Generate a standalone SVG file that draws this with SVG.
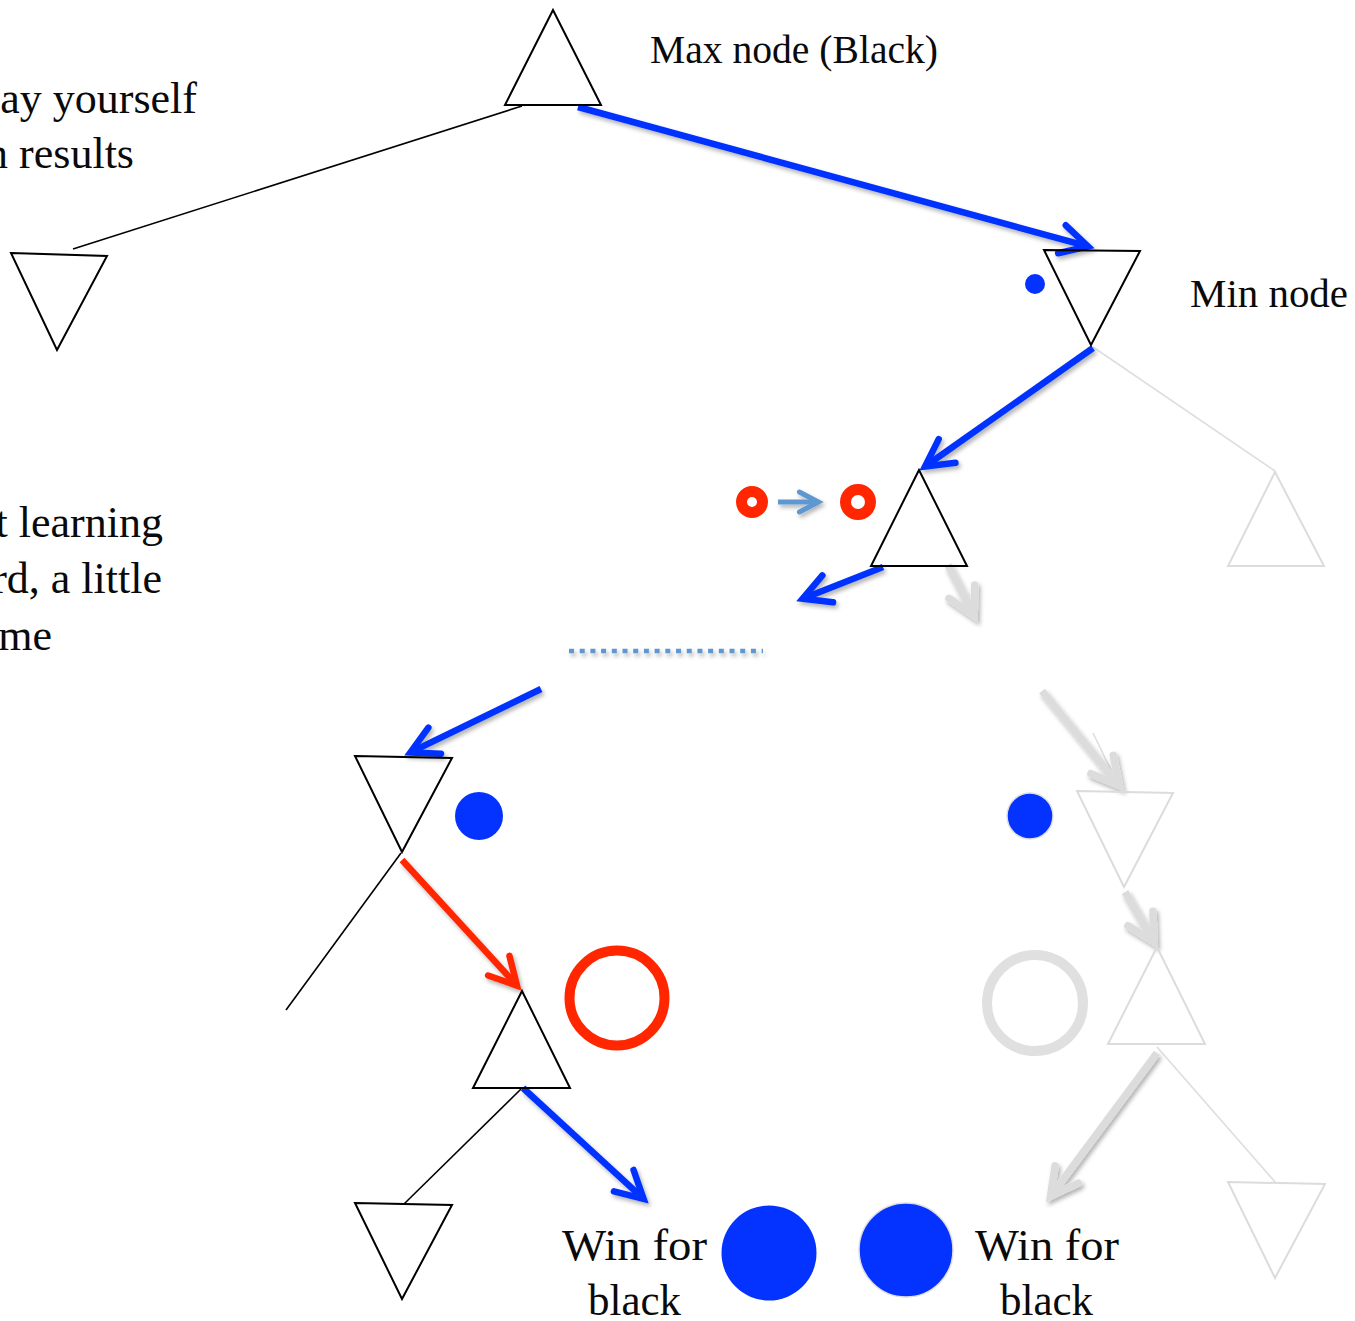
<svg xmlns="http://www.w3.org/2000/svg" width="1355" height="1321" viewBox="0 0 1355 1321">
  <style>
    .lbl { font-family: "Liberation Serif", "DejaVu Serif", serif; fill: #0a0a0a; }
    .tri { fill: none; stroke: #000; stroke-width: 2; stroke-linejoin: miter; }
    .tri-dim { fill: none; stroke: #dcdcdc; stroke-width: 2; }
    .edge { stroke: #000; stroke-width: 1.6; fill: none; }
    .edge-dim { stroke: #dedede; stroke-width: 1.6; fill: none; }
    .arr-blue { stroke: #0433ff; stroke-width: 6.5; fill: none; marker-end: url(#head-blue); }
    .arr-red { stroke: #ff2600; stroke-width: 6.5; fill: none; marker-end: url(#head-red); }
    .arr-gray { stroke: #dcdcdc; stroke-width: 7.5; fill: none; marker-end: url(#head-gray); }
    .arr-steel { stroke: #5e97d0; stroke-width: 5; fill: none; marker-end: url(#head-steel); }
  </style>
  <defs>
    <filter id="shadow" x="-20%" y="-20%" width="140%" height="140%">
      <feDropShadow dx="2" dy="3" stdDeviation="2" flood-color="#000" flood-opacity="0.3"/>
    </filter>
    <marker id="head-blue" markerUnits="userSpaceOnUse" markerWidth="80" markerHeight="80" refX="0" refY="0" orient="auto" overflow="visible">
      <path d="M-27,-14.5 L0,0 L-27,14.5" fill="none" stroke="#0433ff" stroke-width="6.5" stroke-linecap="round" stroke-linejoin="miter"/>
    </marker>
    <marker id="head-red" markerUnits="userSpaceOnUse" markerWidth="80" markerHeight="80" refX="0" refY="0" orient="auto" overflow="visible">
      <path d="M-27,-14.5 L0,0 L-27,14.5" fill="none" stroke="#ff2600" stroke-width="6.5" stroke-linecap="round" stroke-linejoin="miter"/>
    </marker>
    <marker id="head-gray" markerUnits="userSpaceOnUse" markerWidth="80" markerHeight="80" refX="0" refY="0" orient="auto" overflow="visible">
      <path d="M-27,-14.5 L0,0 L-27,14.5" fill="none" stroke="#dcdcdc" stroke-width="7.5" stroke-linecap="round" stroke-linejoin="miter"/>
    </marker>
    <marker id="head-steel" markerUnits="userSpaceOnUse" markerWidth="60" markerHeight="60" refX="0" refY="0" orient="auto" overflow="visible">
      <path d="M-19,-10 L0,0 L-19,10" fill="none" stroke="#5e97d0" stroke-width="5" stroke-linecap="round" stroke-linejoin="miter"/>
    </marker>
  </defs>

  <rect width="1355" height="1321" fill="#fff"/>

  <!-- side notes, running off the left edge -->
  <g id="notes" class="lbl" font-size="44" text-anchor="end">
    <text x="197" y="113">ay yourself</text>
    <text x="134" y="168">n results</text>
    <text x="163" y="537">t learning</text>
    <text x="162" y="593">rd, a little</text>
    <text x="52" y="650">me</text>
  </g>

  <!-- tree edges and move arrows -->
  <g id="connectors">
    <line class="edge" x1="522" y1="106" x2="73" y2="249"/>
    <line class="edge-dim" x1="1093" y1="347" x2="1275" y2="471"/>
    <line class="edge" x1="401" y1="853" x2="286" y2="1010"/>
    <line class="edge" x1="521" y1="1089" x2="404" y2="1204"/>
    <line class="edge-dim" x1="1093" y1="733" x2="1111" y2="770"/>
    <line class="edge-dim" x1="1157" y1="1047" x2="1276" y2="1183"/>

    <g filter="url(#shadow)">
      <line class="arr-blue" x1="578" y1="107" x2="1088" y2="246.4"/>
      <line class="arr-blue" x1="1093" y1="348" x2="925" y2="466.5"/>
      <line class="arr-blue" x1="883" y1="567" x2="802.6" y2="598.8"/>
      <line class="arr-gray" x1="948" y1="565" x2="974.2" y2="615.7"/>
      <line class="arr-steel" x1="778" y1="502" x2="818.4" y2="502"/>
      <line x1="569" y1="651" x2="763" y2="651" stroke="#5e97d0" stroke-width="4.5" stroke-dasharray="5 5.7"/>
      <line class="arr-blue" x1="541" y1="689" x2="410.4" y2="752.4"/>
      <line class="arr-red" x1="402" y1="860" x2="517" y2="985.6"/>
      <line class="arr-blue" x1="523" y1="1088" x2="643.6" y2="1198.9"/>
      <line class="arr-gray" x1="1042" y1="691" x2="1119.2" y2="785.4"/>
      <line class="arr-gray" x1="1125" y1="892" x2="1154" y2="941.8"/>
      <line class="arr-gray" x1="1157" y1="1053" x2="1050.6" y2="1196.2"/>
    </g>
  </g>

  <!-- root: max node -->
  <g id="root-max">
    <polygon class="tri" points="553,10 505,105 601,105"/>
    <text class="lbl" x="650" y="63" font-size="40" textLength="288" lengthAdjust="spacingAndGlyphs">Max node (Black)</text>
  </g>

  <g id="left-min">
    <polygon class="tri" points="11,253 107,256 57,350"/>
  </g>

  <g id="right-min">
    <polygon class="tri" points="1044,250 1140,251 1091,345"/>
    <circle cx="1035" cy="284" r="10" fill="#0433ff"/>
    <text class="lbl" x="1190" y="307" font-size="40" textLength="158" lengthAdjust="spacingAndGlyphs">Min node</text>
  </g>

  <g id="mid-max">
    <polygon class="tri" points="919,470 871,566 967,566"/>
    <circle cx="752" cy="502" r="10.5" fill="none" stroke="#ff2600" stroke-width="11"/>
    <circle cx="858" cy="502" r="12.5" fill="none" stroke="#ff2600" stroke-width="11"/>
  </g>

  <g id="right-max-dim">
    <polygon class="tri-dim" points="1275,472 1228,566 1324,566"/>
  </g>

  <g id="deep-min">
    <polygon class="tri" points="355,756 452,758 402,852"/>
    <circle cx="479" cy="816" r="24" fill="#0433ff"/>
  </g>

  <g id="deep-max">
    <polygon class="tri" points="522,991 473,1088 570,1088"/>
    <circle cx="617" cy="998" r="47.5" fill="none" stroke="#ff2600" stroke-width="10"/>
  </g>

  <g id="deep-leaf-min">
    <polygon class="tri" points="355,1203 452,1205 402,1299"/>
  </g>

  <g id="win-left">
    <circle cx="769" cy="1253" r="47.5" fill="#0433ff"/>
    <text class="lbl" font-size="45">
      <tspan x="562" y="1260" textLength="145" lengthAdjust="spacingAndGlyphs">Win for</tspan>
      <tspan x="588" y="1315" textLength="93" lengthAdjust="spacingAndGlyphs">black</tspan>
    </text>
  </g>

  <g id="alt-min-dim">
    <polygon class="tri-dim" points="1077,791 1173,793 1124,887"/>
    <circle cx="1030" cy="816" r="23" fill="#0433ff" stroke="#dedede" stroke-width="1.5"/>
  </g>

  <g id="alt-max-dim">
    <polygon class="tri-dim" points="1157,947 1108,1044 1205,1044"/>
    <circle cx="1035" cy="1003" r="48" fill="none" stroke="#e0e0e0" stroke-width="10"/>
  </g>

  <g id="alt-leaf-min-dim">
    <polygon class="tri-dim" points="1228,1182 1325,1184 1275,1278"/>
  </g>

  <g id="win-right">
    <circle cx="906" cy="1250" r="47" fill="#0433ff" stroke="#dedede" stroke-width="1.5"/>
    <text class="lbl" font-size="45">
      <tspan x="975" y="1260" textLength="144" lengthAdjust="spacingAndGlyphs">Win for</tspan>
      <tspan x="1000" y="1315" textLength="93" lengthAdjust="spacingAndGlyphs">black</tspan>
    </text>
  </g>
</svg>
